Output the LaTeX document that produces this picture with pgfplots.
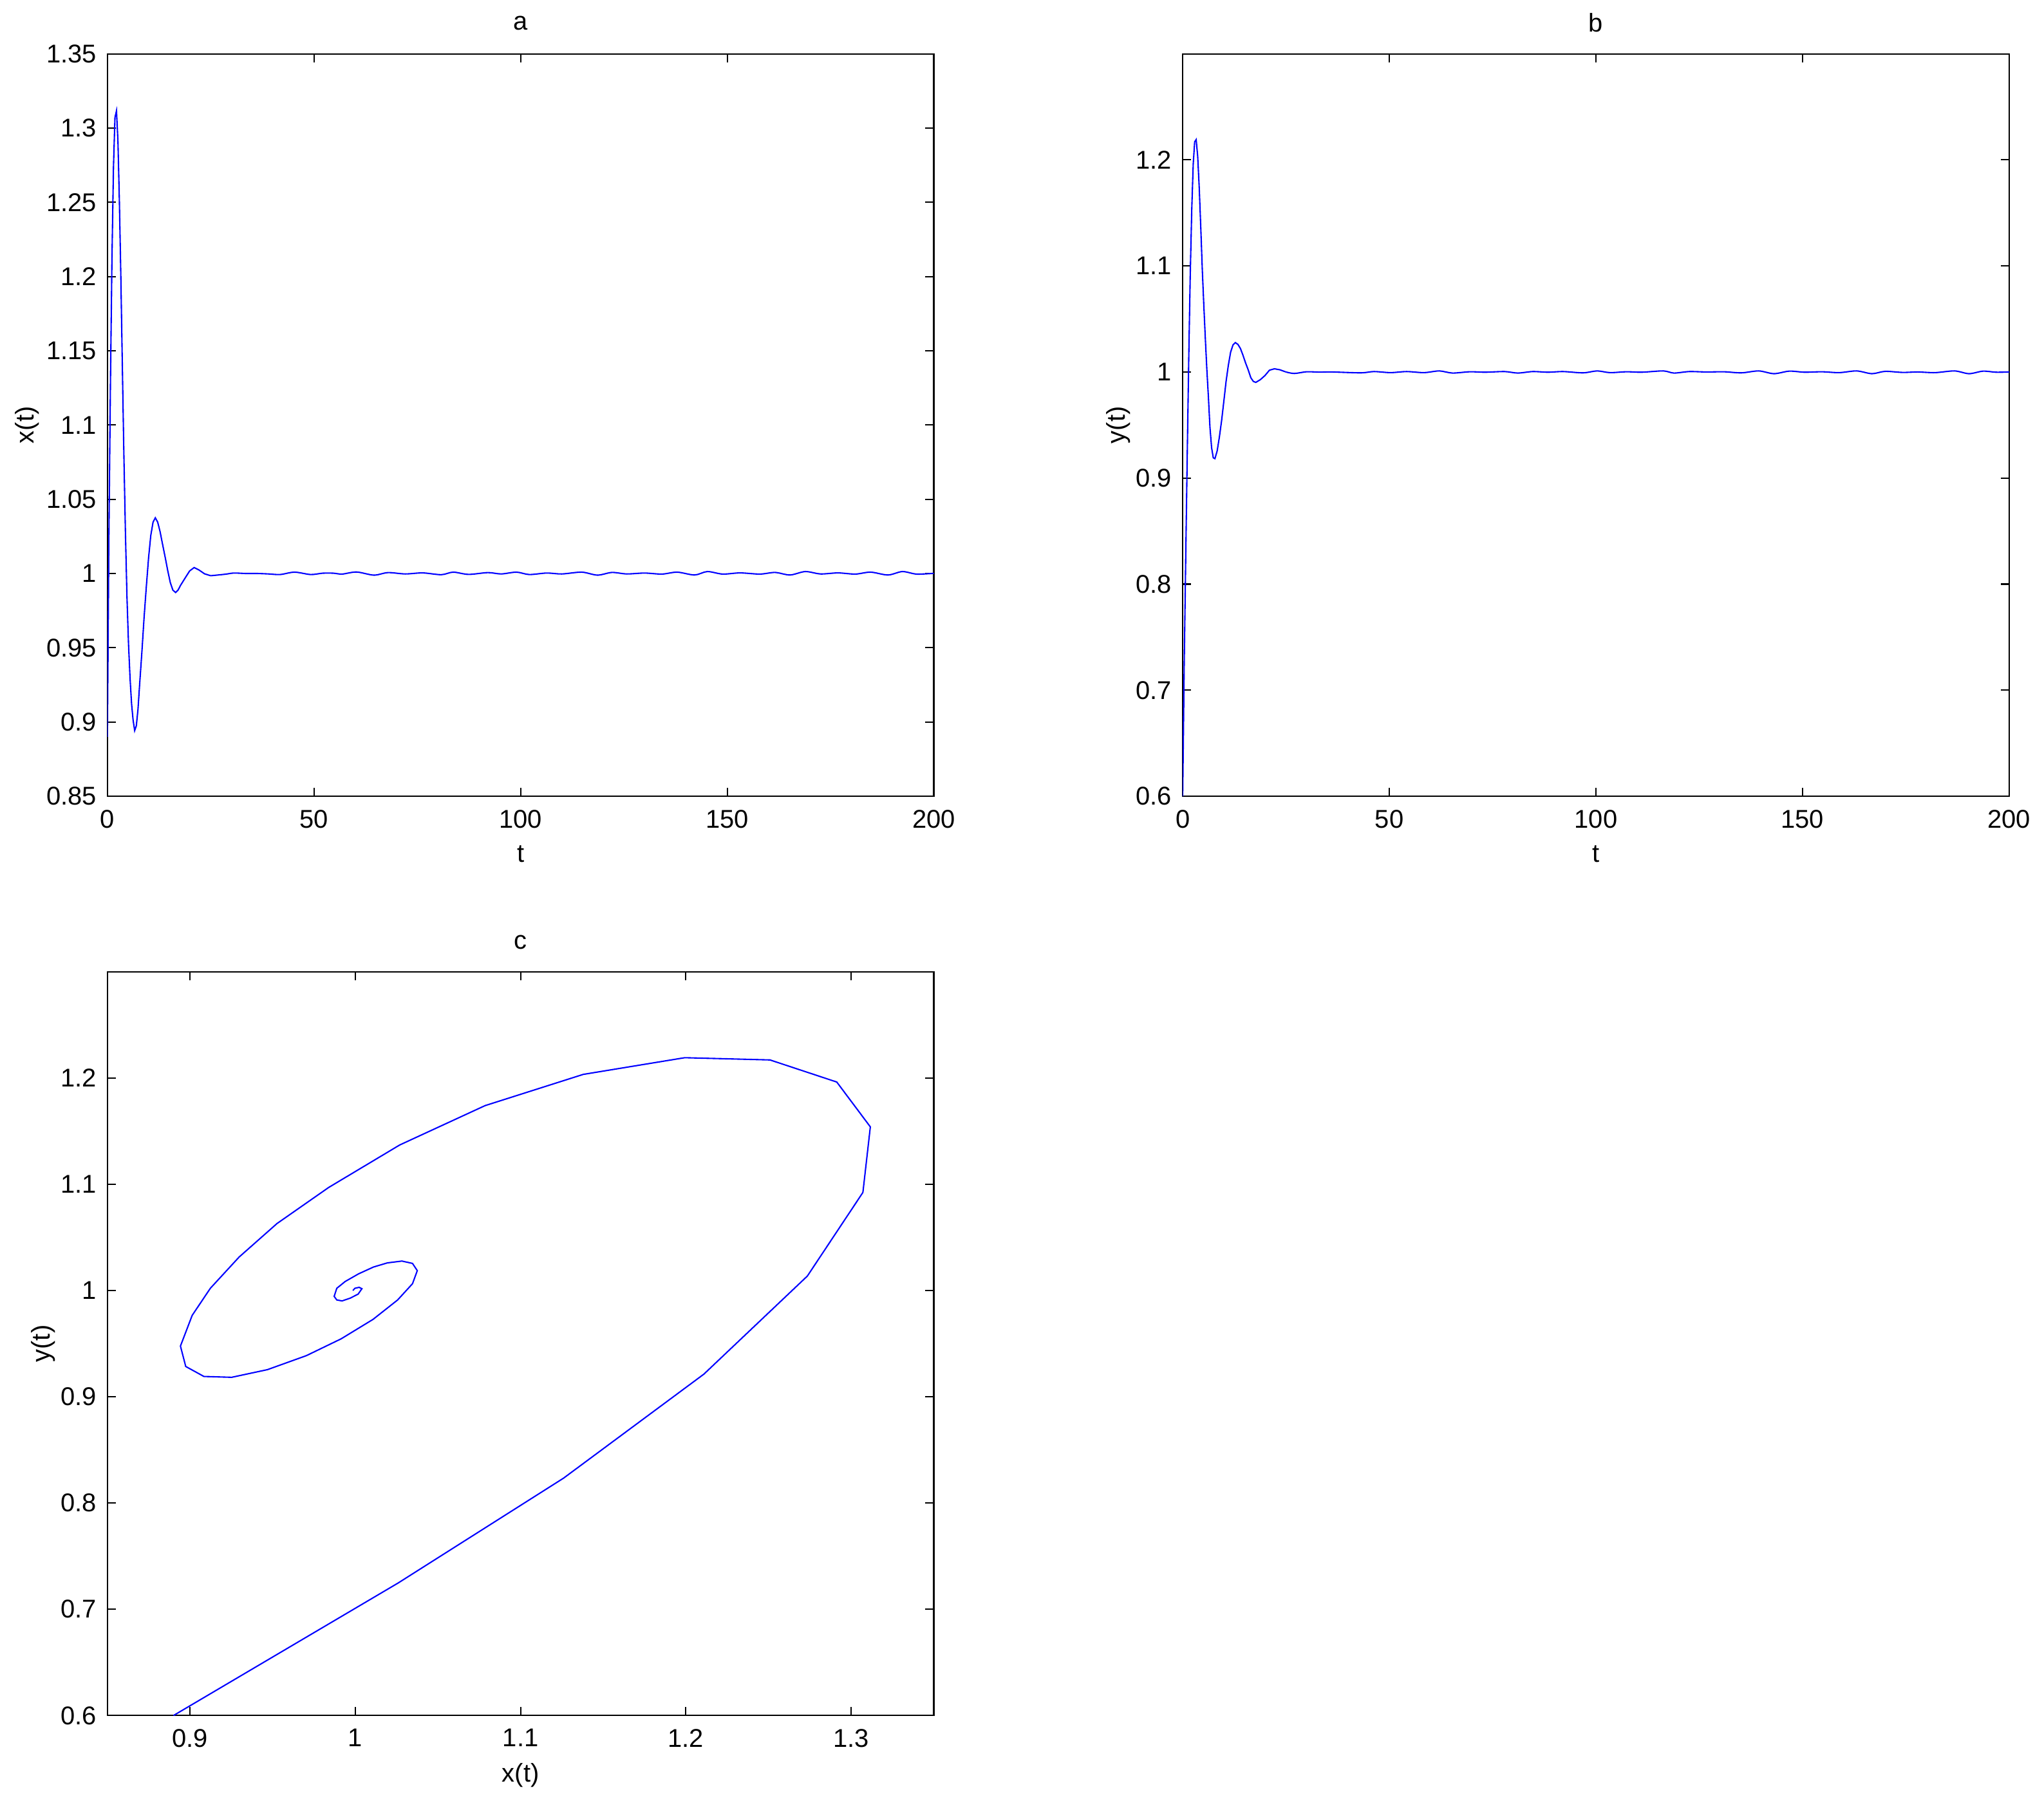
\documentclass[border=0pt]{standalone}
\usepackage{fontspec}
\setmainfont{Liberation Sans}
\usepackage{pgfplots}
\usepackage{pgfplotstable}
\pgfplotsset{compat=1.18}
\definecolor{curve}{RGB}{0,0,255}

% transient: t, x, y (vertices as in the phase plot)
\pgfplotstableread{
t x y
0 0.890 0.600
0.37 1.0259 0.7247
0.73 1.126 0.8234
1.1 1.2109 0.9213
1.47 1.2735 1.0136
1.83 1.3071 1.0923
2.2 1.3116 1.154
2.55 1.2913 1.1962
2.9 1.2509 1.217
3.26 1.1993 1.2191
3.63 1.1379 1.2034
4.0 1.0785 1.174
4.37 1.0269 1.137
4.74 0.9839 1.097
5.11 0.9526 1.063
5.48 0.9297 1.0315
5.85 0.9123 1.0021
6.22 0.9013 0.9766
6.6 0.8942 0.9477
7.0 0.8974 0.9285
7.4 0.9084 0.9191
7.8 0.9252 0.9183
8.34 0.9468 0.9255
8.88 0.9704 0.9387
9.43 0.9914 0.9545
9.97 1.0107 0.9728
10.5 1.0256 0.9911
11.05 1.0346 1.0064
11.6 1.0375 1.0187
12.17 1.0346 1.0255
12.75 1.0282 1.0277
13.37 1.0194 1.026
13.98 1.011 1.0221
14.6 1.002 1.0157
15.22 0.9939 1.0085
15.85 0.9888 1.0021
16.5 0.9872 0.9945
17.1 0.9888 0.9911
17.7 0.992 0.9902
18.8 0.9969 0.9928
19.9 1.0017 0.9966
21.0 1.004 1.0017
22.2 1.0023 1.003
23.5 0.9998 1.0021
25.0 0.9985 1.0
}\transient

% small wiggles after the transient
\pgfplotstableread{
t x
25.0 0.9985
28.5 0.9995
30.6 1.0003
33.5 1.0
36.3 1.0
39 0.9997
41.8 0.9993
45.3 1.0009
49.2 0.9993
52.1 1.0002
54.7 1.0002
56.8 0.9996
60.3 1.001
64.5 0.9989
67.9 1.0006
72.1 0.9997
76.3 1.0004
80.8 0.9992
83.7 1.0009
87.4 0.9994
92.1 1.0006
95.3 0.9997
99.0 1.0009
102.1 0.9993
106.3 1.0003
110.0 0.9997
114.8 1.0009
118.6 0.9989
122.1 1.0007
125.7 0.9997
130.0 1.0003
134.2 0.9996
137.9 1.0009
142.1 0.999
145.2 1.0013
148.9 0.9996
153.1 1.0004
157.9 0.9996
161.6 1.0007
165.2 0.999
168.9 1.0013
172.6 0.9997
176.8 1.0004
181.0 0.9996
184.7 1.0009
188.9 0.999
192.4 1.0013
195.8 0.9996
200 1.0001
}\tailx

\pgfplotstableread{
t y
25.0 1.0
27 0.9986
30 1.0002
33 0.9999
36.3 1.0
43.1 0.9992
46.3 1.0004
50.3 0.9994
54.2 1.0004
58.4 0.9994
62.1 1.001
65.3 0.999
69.5 1.0002
73.2 0.9998
77.9 1.0004
81.1 0.999
84.7 1.0004
88.4 0.9998
92.1 1.0004
96.9 0.9992
100.3 1.001
103.4 0.9994
107.4 1.0002
111.1 0.9998
116.3 1.001
118.9 0.999
122.6 1.0004
126.8 1.0
131.0 1.0002
135.2 0.9992
139.4 1.001
143.1 0.9984
146.8 1.0008
150.5 0.9998
154.7 1.0002
158.9 0.9994
163.1 1.001
166.8 0.9984
170.0 1.0006
174.2 0.9996
177.9 1.0
182.1 0.9994
186.8 1.001
190.3 0.9984
193.7 1.0008
196.8 0.9998
200 1.0
}\taily

\pgfplotsset{
  mlab/.style={
    scale only axis, width=305.5pt, height=274.5pt,
    font=\fontsize{9.5}{11}\selectfont,
    /pgf/number format/assume math mode=true,
    axis line style={line width=0.5pt},
    tick style={line width=0.5pt, black},
    major tick length=3.1pt, tick align=inside,
    xtick pos=both, ytick pos=both,
    xticklabel style={yshift=-1.5pt},
    yticklabel style={xshift=-0.5pt},
    title style={at={(axis description cs:0.5,1.043)}, anchor=center, yshift=-6.4pt},
    xlabel style={at={(axis description cs:0.5,-0.078)}, anchor=center},
    no markers,
  },
}

\begin{document}
\begin{tikzpicture}
\useasboundingbox (-39.7pt,-373.9pt) rectangle (715.9pt,294.4pt);

% a: x(t)
\begin{axis}[mlab, at={(0pt,0pt)}, anchor=south west,
  title={a}, xlabel={t}, ylabel={x(t)},
  ylabel style={at={(axis description cs:-0.097,0.5)}, anchor=center},
  xmin=0, xmax=200, ymin=0.85, ymax=1.35,
  xtick={0,50,100,150,200}, xticklabels={0,50,100,150,200},
  ytick={0.85,0.9,0.95,1,1.05,1.1,1.15,1.2,1.25,1.3,1.35},
  yticklabels={0.85,0.9,0.95,1,1.05,1.1,1.15,1.2,1.25,1.3,1.35},
]
  \addplot[curve, line width=0.5pt] table[x=t, y=x] {\transient};
  \addplot[curve, line width=0.5pt, smooth] table[x=t, y=x] {\tailx};
\end{axis}

% b: y(t)
\begin{axis}[mlab, at={(397.5pt,0pt)}, anchor=south west,
  title={b}, xlabel={t}, ylabel={y(t)},
  ylabel style={at={(axis description cs:-0.078,0.5)}, anchor=center},
  xmin=0, xmax=200, ymin=0.6, ymax=1.3,
  xtick={0,50,100,150,200}, xticklabels={0,50,100,150,200},
  ytick={0.6,0.7,0.8,0.9,1,1.1,1.2},
  yticklabels={0.6,0.7,0.8,0.9,1,1.1,1.2},
]
  \addplot[curve, line width=0.5pt] table[x=t, y=y] {\transient};
  \addplot[curve, line width=0.5pt, smooth] table[x=t, y=y] {\taily};
\end{axis}

% c: phase portrait
\begin{axis}[mlab, at={(0pt,-339.9pt)}, anchor=south west,
  height=275pt,
  title={c}, xlabel={x(t)}, ylabel={y(t)},
  title style={at={(axis description cs:0.5,1.041)}},
  xlabel style={at={(axis description cs:0.5,-0.08)}},
  ylabel style={at={(axis description cs:-0.078,0.5)}, anchor=center},
  xmin=0.85, xmax=1.35, ymin=0.6, ymax=1.3,
  xtick={0.9,1,1.1,1.2,1.3}, xticklabels={0.9,1,1.1,1.2,1.3},
  ytick={0.6,0.7,0.8,0.9,1,1.1,1.2},
  yticklabels={0.6,0.7,0.8,0.9,1,1.1,1.2},
]
  \addplot[curve, line width=0.5pt] table[x=x, y=y] {\transient};
\end{axis}
\end{tikzpicture}
\end{document}
